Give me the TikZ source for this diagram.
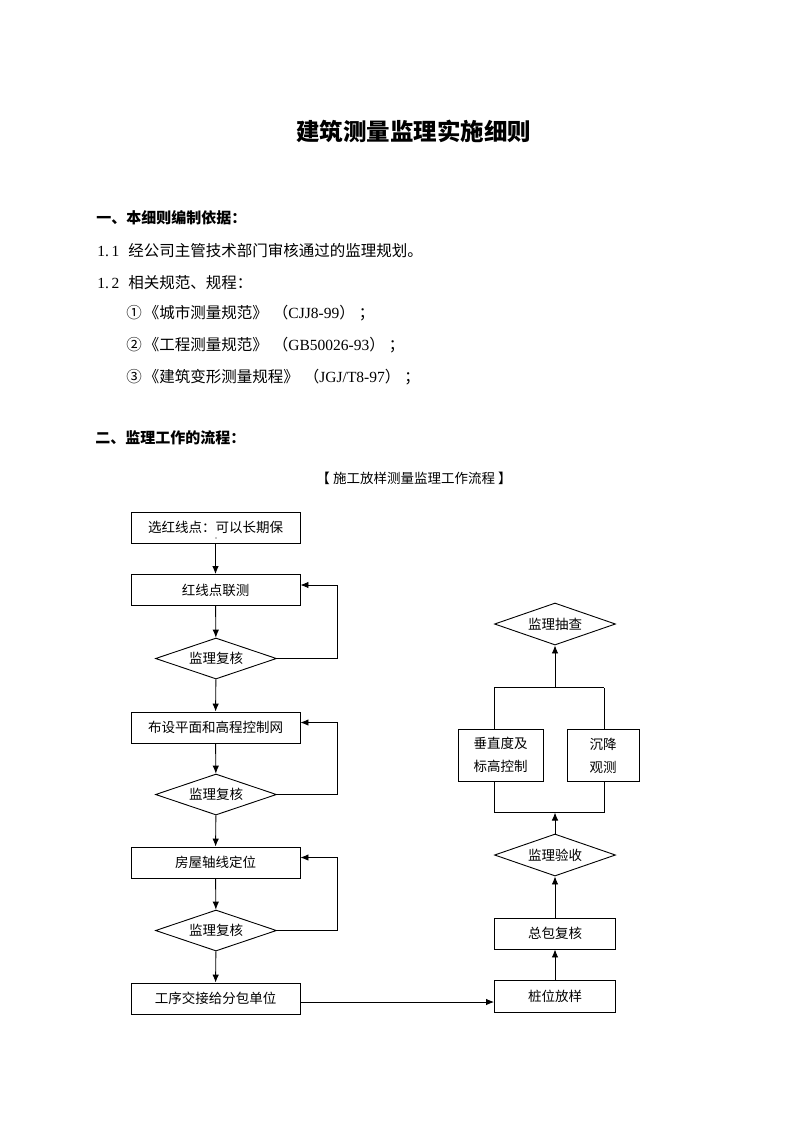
\documentclass[tikz,border=0pt]{standalone}
\usepackage{fontspec}
\setmainfont{Noto Sans CJK SC}
\newfontfamily\lat{Liberation Serif}
\usetikzlibrary{arrows.meta,shapes.geometric}
\begin{document}
\begin{tikzpicture}[x=1pt,y=-1pt,
  line width=0.9pt,
  arr/.style={-{Latex[length=8pt,width=6.5pt]}},
  fbox/.style={draw, inner sep=0pt, minimum width=169pt, minimum height=31pt, font=\fontsize{13.5}{16}\selectfont},
  rbox/.style={draw, inner sep=0pt, minimum width=121pt, minimum height=31pt, font=\fontsize{13.5}{16}\selectfont},
  sbox/.style={draw, inner sep=0pt, minimum height=52pt, align=center, font=\fontsize{13.5}{23}\selectfont},
  dia/.style={draw, diamond, aspect=3, inner sep=0pt, minimum width=121pt, minimum height=41pt, font=\fontsize{13.5}{16}\selectfont},
  body/.style={anchor=west, inner sep=0pt, font=\fontsize{15.5}{18}\selectfont},
  head/.style={anchor=west, inner sep=0pt, font=\fontsize{15}{18}\selectfont\bfseries}]
\path[fill=white] (0,0) rectangle (800,1132);
\useasboundingbox (0,0) rectangle (800,1132);

% title and text
\node[inner sep=0pt, font=\fontsize{23.5}{28}\selectfont\bfseries] (title) at (413.5,131) {建筑测量监理实施细则};
\node[head] (h1) at (96,218) {一、本细则编制依据：};
\node[body] (t11) at (97,251) {{\lat 1.\,1}\hspace{9pt}经公司主管技术部门审核通过的监理规划。};
\node[body] (t12) at (97,283) {{\lat 1.\,2}\hspace{9pt}相关规范、规程：};
\node[body] (r1) at (126,313) {①\hspace{2pt}《城市测量规范》\hspace{5pt}（{\lat CJJ8-99}）\hspace{4pt}；};
\node[body] (r2) at (126,345) {②\hspace{2pt}《工程测量规范》\hspace{5pt}（{\lat GB50026-93}）\hspace{4pt}；};
\node[body] (r3) at (126,377) {③\hspace{2pt}《建筑变形测量规程》\hspace{5pt}（{\lat JGJ/T8-97}）\hspace{4pt}；};
\node[head] (h2) at (95,438) {二、监理工作的流程：};
\node[inner sep=0pt, font=\fontsize{13.5}{16}\selectfont] (cap) at (414,478) {【\ 施工放样测量监理工作流程\ 】};

% left column
\node[fbox] (b1) at (215.5,527.5) {选红线点：可以长期保};
\fill (216,538) circle (0.6);
\node[fbox] (b2) at (215.5,590) {红线点联测};
\node[dia] (d1) at (216,658.5) {监理复核};
\node[fbox] (b3) at (215.5,727.5) {布设平面和高程控制网};
\node[dia] (d2) at (216,794.5) {监理复核};
\node[fbox] (b4) at (215.5,862.5) {房屋轴线定位};
\node[dia] (d3) at (216,930.5) {监理复核};
\node[fbox] (b5) at (215.5,998.5) {工序交接给分包单位};

\draw[arr] (b1) -- (b2);
\draw[arr] (b2) -- (d1);
\draw[arr] (d1) -- (b3);
\draw[arr] (b3) -- (d2);
\draw[arr] (d2) -- (b4);
\draw[arr] (b4) -- (d3);
\draw[arr] (d3) -- (b5);
\draw[arr] (d1.east) -- ++(60.5,0) |- ([yshift=5pt]b2.east);
\draw[arr] (d2.east) -- ++(60.5,0) |- ([yshift=5pt]b3.east);
\draw[arr] (d3.east) -- ++(60.5,0) |- ([yshift=5pt]b4.east);

% right column
\node[rbox, minimum height=32pt] (zw) at (555,996) {桩位放样};
\node[rbox] (zb) at (555,933.5) {总包复核};
\node[dia, minimum height=42pt] (ys) at (555,855) {监理验收};
\node[sbox, minimum width=85pt] (cz) at (500.5,755) {垂直度及\\标高控制};
\node[sbox, minimum width=72pt] (cj) at (603,755.5) {沉降\\观测};
\node[dia, minimum height=42pt] (cc) at (555,624) {监理抽查};

\coordinate (bl) at (494,812.5);
\coordinate (br) at (604,812.5);
\coordinate (bm) at (555,812.5);
\coordinate (tl) at (494,687.5);
\coordinate (tr) at (604,687.5);
\coordinate (tm) at (555,687.5);

\draw[arr] ([yshift=-3.5pt]b5.east) -- ([yshift=-3.5pt]b5.east -| zw.west);
\draw[arr] (zw) -- (zb);
\draw[arr] (zb) -- (ys);
\draw[arr] (ys) -- (bm);
\draw (bl) -- (br);
\draw (bl) -- (cz.south -| bl);
\draw (cz.north -| tl) -- (tl);
\draw (br) -- (cj.south -| br);
\draw (cj.north -| tr) -- (tr);
\draw (tl) -- (tr);
\draw[arr] (tm) -- (cc);
\end{tikzpicture}
\end{document}
